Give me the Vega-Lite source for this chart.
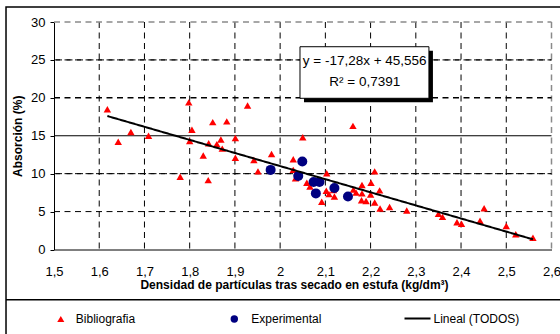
{
  "$schema": "https://vega.github.io/schema/vega-lite/v6.json",
  "width": 497.5,
  "height": 227.5,
  "autosize": {"type": "none"},
  "padding": {"left": 54, "top": 22, "right": 8.5, "bottom": 84.5},
  "background": "white",
  "config": {
    "font": "Liberation Sans",
    "view": {"stroke": null},
    "axis": {
      "domainColor": "#000",
      "tickColor": "#000",
      "labelColor": "#000",
      "titleColor": "#000",
      "labelFont": "Liberation Sans",
      "titleFont": "Liberation Sans",
      "labelFontSize": 13,
      "titleFontSize": 12,
      "titleFontWeight": "bold"
    },
    "legend": {"labelFont": "Liberation Sans", "labelColor": "#000", "labelFontSize": 12, "padding": 0, "title": null, "orient": "none", "symbolOpacity": 1}
  },
  "datasets": {
    "bibliografia": [
      {"x": 1.618, "y": 18.5, "serie": "Bibliografia"},
      {"x": 1.642, "y": 14.2, "serie": "Bibliografia"},
      {"x": 1.670, "y": 15.5, "serie": "Bibliografia"},
      {"x": 1.709, "y": 15.0, "serie": "Bibliografia"},
      {"x": 1.779, "y": 9.6, "serie": "Bibliografia"},
      {"x": 1.798, "y": 19.4, "serie": "Bibliografia"},
      {"x": 1.805, "y": 15.8, "serie": "Bibliografia"},
      {"x": 1.800, "y": 14.3, "serie": "Bibliografia"},
      {"x": 1.830, "y": 12.4, "serie": "Bibliografia"},
      {"x": 1.841, "y": 9.15, "serie": "Bibliografia"},
      {"x": 1.842, "y": 14.0, "serie": "Bibliografia"},
      {"x": 1.851, "y": 16.8, "serie": "Bibliografia"},
      {"x": 1.860, "y": 13.9, "serie": "Bibliografia"},
      {"x": 1.869, "y": 14.5, "serie": "Bibliografia"},
      {"x": 1.872, "y": 13.3, "serie": "Bibliografia"},
      {"x": 1.882, "y": 16.9, "serie": "Bibliografia"},
      {"x": 1.901, "y": 14.7, "serie": "Bibliografia"},
      {"x": 1.901, "y": 12.1, "serie": "Bibliografia"},
      {"x": 1.928, "y": 19.0, "serie": "Bibliografia"},
      {"x": 1.942, "y": 11.8, "serie": "Bibliografia"},
      {"x": 1.951, "y": 10.3, "serie": "Bibliografia"},
      {"x": 1.981, "y": 12.6, "serie": "Bibliografia"},
      {"x": 2.029, "y": 11.9, "serie": "Bibliografia"},
      {"x": 2.029, "y": 10.5, "serie": "Bibliografia"},
      {"x": 2.034, "y": 9.4, "serie": "Bibliografia"},
      {"x": 2.050, "y": 14.8, "serie": "Bibliografia"},
      {"x": 2.059, "y": 8.8, "serie": "Bibliografia"},
      {"x": 2.066, "y": 8.3, "serie": "Bibliografia"},
      {"x": 2.103, "y": 10.05, "serie": "Bibliografia"},
      {"x": 2.102, "y": 7.75, "serie": "Bibliografia"},
      {"x": 2.092, "y": 6.3, "serie": "Bibliografia"},
      {"x": 2.108, "y": 7.3, "serie": "Bibliografia"},
      {"x": 2.118, "y": 7.85, "serie": "Bibliografia"},
      {"x": 2.120, "y": 7.0, "serie": "Bibliografia"},
      {"x": 2.161, "y": 16.3, "serie": "Bibliografia"},
      {"x": 2.162, "y": 7.9, "serie": "Bibliografia"},
      {"x": 2.168, "y": 7.5, "serie": "Bibliografia"},
      {"x": 2.181, "y": 8.5, "serie": "Bibliografia"},
      {"x": 2.181, "y": 7.4, "serie": "Bibliografia"},
      {"x": 2.180, "y": 6.5, "serie": "Bibliografia"},
      {"x": 2.190, "y": 6.4, "serie": "Bibliografia"},
      {"x": 2.209, "y": 10.3, "serie": "Bibliografia"},
      {"x": 2.201, "y": 8.8, "serie": "Bibliografia"},
      {"x": 2.220, "y": 7.8, "serie": "Bibliografia"},
      {"x": 2.200, "y": 7.25, "serie": "Bibliografia"},
      {"x": 2.209, "y": 6.2, "serie": "Bibliografia"},
      {"x": 2.221, "y": 5.4, "serie": "Bibliografia"},
      {"x": 2.242, "y": 5.6, "serie": "Bibliografia"},
      {"x": 2.280, "y": 5.15, "serie": "Bibliografia"},
      {"x": 2.350, "y": 4.7, "serie": "Bibliografia"},
      {"x": 2.359, "y": 4.3, "serie": "Bibliografia"},
      {"x": 2.391, "y": 3.6, "serie": "Bibliografia"},
      {"x": 2.401, "y": 3.4, "serie": "Bibliografia"},
      {"x": 2.442, "y": 3.8, "serie": "Bibliografia"},
      {"x": 2.451, "y": 5.45, "serie": "Bibliografia"},
      {"x": 2.500, "y": 3.1, "serie": "Bibliografia"},
      {"x": 2.521, "y": 2.0, "serie": "Bibliografia"},
      {"x": 2.559, "y": 1.55, "serie": "Bibliografia"}
    ],
    "experimental": [
      {"x": 1.979, "y": 10.5, "serie": "Experimental"},
      {"x": 2.049, "y": 11.6, "serie": "Experimental"},
      {"x": 2.040, "y": 9.7, "serie": "Experimental"},
      {"x": 2.074, "y": 8.9, "serie": "Experimental"},
      {"x": 2.087, "y": 8.9, "serie": "Experimental"},
      {"x": 2.079, "y": 7.4, "serie": "Experimental"},
      {"x": 2.120, "y": 8.1, "serie": "Experimental"},
      {"x": 2.150, "y": 7.0, "serie": "Experimental"}
    ],
    "tendencia": [
      {"x": 1.618, "y": 17.6, "serie": "Lineal (TODOS)"},
      {"x": 2.559, "y": 1.34, "serie": "Lineal (TODOS)"}
    ],
    "nota": [{"a": 1}]
  },
  "layer": [
    {"data": {"name": "nota"}, "mark": {"type": "rule", "stroke": "#000", "strokeWidth": 1, "strokeDash": [6, 4.5]}, "encoding": {"x": {"datum": 1.6, "type": "quantitative", "scale": {"domain": [1.5, 2.6], "nice": false, "zero": false}, "axis": {"values": [1.5, 1.6, 1.7, 1.8, 1.9, 2, 2.1, 2.2, 2.3, 2.4, 2.5, 2.6], "labelExpr": "replace(format(datum.value, '.2~f'), '.', ',')", "grid": false, "ticks": false, "tickSize": 0, "labelPadding": 16, "labelFlush": false, "title": "Densidad de partículas tras secado en estufa (kg/dm³)", "titleX": 240, "titleY": 35, "titleBaseline": "middle"}}}},
    {"data": {"name": "nota"}, "mark": {"type": "rule", "stroke": "#000", "strokeWidth": 1, "strokeDash": [6, 4.5]}, "encoding": {"x": {"datum": 1.7, "type": "quantitative", "scale": {"domain": [1.5, 2.6], "nice": false, "zero": false}, "axis": {"values": [1.5, 1.6, 1.7, 1.8, 1.9, 2, 2.1, 2.2, 2.3, 2.4, 2.5, 2.6], "labelExpr": "replace(format(datum.value, '.2~f'), '.', ',')", "grid": false, "ticks": false, "tickSize": 0, "labelPadding": 16, "labelFlush": false, "title": "Densidad de partículas tras secado en estufa (kg/dm³)", "titleX": 240, "titleY": 35, "titleBaseline": "middle"}}}},
    {"data": {"name": "nota"}, "mark": {"type": "rule", "stroke": "#000", "strokeWidth": 1, "strokeDash": [6, 4.5]}, "encoding": {"x": {"datum": 1.8, "type": "quantitative", "scale": {"domain": [1.5, 2.6], "nice": false, "zero": false}, "axis": {"values": [1.5, 1.6, 1.7, 1.8, 1.9, 2, 2.1, 2.2, 2.3, 2.4, 2.5, 2.6], "labelExpr": "replace(format(datum.value, '.2~f'), '.', ',')", "grid": false, "ticks": false, "tickSize": 0, "labelPadding": 16, "labelFlush": false, "title": "Densidad de partículas tras secado en estufa (kg/dm³)", "titleX": 240, "titleY": 35, "titleBaseline": "middle"}}}},
    {"data": {"name": "nota"}, "mark": {"type": "rule", "stroke": "#000", "strokeWidth": 1, "strokeDash": [6, 4.5]}, "encoding": {"x": {"datum": 1.9, "type": "quantitative", "scale": {"domain": [1.5, 2.6], "nice": false, "zero": false}, "axis": {"values": [1.5, 1.6, 1.7, 1.8, 1.9, 2, 2.1, 2.2, 2.3, 2.4, 2.5, 2.6], "labelExpr": "replace(format(datum.value, '.2~f'), '.', ',')", "grid": false, "ticks": false, "tickSize": 0, "labelPadding": 16, "labelFlush": false, "title": "Densidad de partículas tras secado en estufa (kg/dm³)", "titleX": 240, "titleY": 35, "titleBaseline": "middle"}}}},
    {"data": {"name": "nota"}, "mark": {"type": "rule", "stroke": "#000", "strokeWidth": 1, "strokeDash": [6, 4.5]}, "encoding": {"x": {"datum": 2.0, "type": "quantitative", "scale": {"domain": [1.5, 2.6], "nice": false, "zero": false}, "axis": {"values": [1.5, 1.6, 1.7, 1.8, 1.9, 2, 2.1, 2.2, 2.3, 2.4, 2.5, 2.6], "labelExpr": "replace(format(datum.value, '.2~f'), '.', ',')", "grid": false, "ticks": false, "tickSize": 0, "labelPadding": 16, "labelFlush": false, "title": "Densidad de partículas tras secado en estufa (kg/dm³)", "titleX": 240, "titleY": 35, "titleBaseline": "middle"}}}},
    {"data": {"name": "nota"}, "mark": {"type": "rule", "stroke": "#000", "strokeWidth": 1, "strokeDash": [6, 4.5]}, "encoding": {"x": {"datum": 2.1, "type": "quantitative", "scale": {"domain": [1.5, 2.6], "nice": false, "zero": false}, "axis": {"values": [1.5, 1.6, 1.7, 1.8, 1.9, 2, 2.1, 2.2, 2.3, 2.4, 2.5, 2.6], "labelExpr": "replace(format(datum.value, '.2~f'), '.', ',')", "grid": false, "ticks": false, "tickSize": 0, "labelPadding": 16, "labelFlush": false, "title": "Densidad de partículas tras secado en estufa (kg/dm³)", "titleX": 240, "titleY": 35, "titleBaseline": "middle"}}}},
    {"data": {"name": "nota"}, "mark": {"type": "rule", "stroke": "#000", "strokeWidth": 1, "strokeDash": [6, 4.5]}, "encoding": {"x": {"datum": 2.2, "type": "quantitative", "scale": {"domain": [1.5, 2.6], "nice": false, "zero": false}, "axis": {"values": [1.5, 1.6, 1.7, 1.8, 1.9, 2, 2.1, 2.2, 2.3, 2.4, 2.5, 2.6], "labelExpr": "replace(format(datum.value, '.2~f'), '.', ',')", "grid": false, "ticks": false, "tickSize": 0, "labelPadding": 16, "labelFlush": false, "title": "Densidad de partículas tras secado en estufa (kg/dm³)", "titleX": 240, "titleY": 35, "titleBaseline": "middle"}}}},
    {"data": {"name": "nota"}, "mark": {"type": "rule", "stroke": "#000", "strokeWidth": 1, "strokeDash": [6, 4.5]}, "encoding": {"x": {"datum": 2.3, "type": "quantitative", "scale": {"domain": [1.5, 2.6], "nice": false, "zero": false}, "axis": {"values": [1.5, 1.6, 1.7, 1.8, 1.9, 2, 2.1, 2.2, 2.3, 2.4, 2.5, 2.6], "labelExpr": "replace(format(datum.value, '.2~f'), '.', ',')", "grid": false, "ticks": false, "tickSize": 0, "labelPadding": 16, "labelFlush": false, "title": "Densidad de partículas tras secado en estufa (kg/dm³)", "titleX": 240, "titleY": 35, "titleBaseline": "middle"}}}},
    {"data": {"name": "nota"}, "mark": {"type": "rule", "stroke": "#000", "strokeWidth": 1, "strokeDash": [6, 4.5]}, "encoding": {"x": {"datum": 2.4, "type": "quantitative", "scale": {"domain": [1.5, 2.6], "nice": false, "zero": false}, "axis": {"values": [1.5, 1.6, 1.7, 1.8, 1.9, 2, 2.1, 2.2, 2.3, 2.4, 2.5, 2.6], "labelExpr": "replace(format(datum.value, '.2~f'), '.', ',')", "grid": false, "ticks": false, "tickSize": 0, "labelPadding": 16, "labelFlush": false, "title": "Densidad de partículas tras secado en estufa (kg/dm³)", "titleX": 240, "titleY": 35, "titleBaseline": "middle"}}}},
    {"data": {"name": "nota"}, "mark": {"type": "rule", "stroke": "#000", "strokeWidth": 1, "strokeDash": [6, 4.5]}, "encoding": {"x": {"datum": 2.5, "type": "quantitative", "scale": {"domain": [1.5, 2.6], "nice": false, "zero": false}, "axis": {"values": [1.5, 1.6, 1.7, 1.8, 1.9, 2, 2.1, 2.2, 2.3, 2.4, 2.5, 2.6], "labelExpr": "replace(format(datum.value, '.2~f'), '.', ',')", "grid": false, "ticks": false, "tickSize": 0, "labelPadding": 16, "labelFlush": false, "title": "Densidad de partículas tras secado en estufa (kg/dm³)", "titleX": 240, "titleY": 35, "titleBaseline": "middle"}}}},
    {"data": {"name": "nota"}, "mark": {"type": "rule", "stroke": "#8a8a8a", "strokeWidth": 1.5, "strokeDash": [6, 4.5]}, "encoding": {"x": {"datum": 2.6, "type": "quantitative", "scale": {"domain": [1.5, 2.6], "nice": false, "zero": false}, "axis": {"values": [1.5, 1.6, 1.7, 1.8, 1.9, 2, 2.1, 2.2, 2.3, 2.4, 2.5, 2.6], "labelExpr": "replace(format(datum.value, '.2~f'), '.', ',')", "grid": false, "ticks": false, "tickSize": 0, "labelPadding": 16, "labelFlush": false, "title": "Densidad de partículas tras secado en estufa (kg/dm³)", "titleX": 240, "titleY": 35, "titleBaseline": "middle"}}}},
    {"data": {"name": "nota"}, "mark": {"type": "rule", "stroke": "#000", "strokeWidth": 1, "strokeDash": [6, 4.5]}, "encoding": {"x": {"datum": 1.5, "type": "quantitative", "scale": {"domain": [1.5, 2.6], "nice": false, "zero": false}, "axis": {"values": [1.5, 1.6, 1.7, 1.8, 1.9, 2, 2.1, 2.2, 2.3, 2.4, 2.5, 2.6], "labelExpr": "replace(format(datum.value, '.2~f'), '.', ',')", "grid": false, "ticks": false, "tickSize": 0, "labelPadding": 16, "labelFlush": false, "title": "Densidad de partículas tras secado en estufa (kg/dm³)", "titleX": 240, "titleY": 35, "titleBaseline": "middle"}}, "x2": {"datum": 2.6}, "y": {"datum": 5, "type": "quantitative", "scale": {"domain": [0, 30], "nice": false, "zero": false}, "axis": {"values": [0, 5, 10, 15, 20, 25, 30], "grid": false, "tickSize": 4, "labelPadding": 5, "labelFlush": false, "title": "Absorción (%)", "titleX": -37, "titleY": 113.75, "titleAngle": -90, "titleBaseline": "middle"}}}},
    {"data": {"name": "nota"}, "mark": {"type": "rect", "fill": "transparent", "stroke": "#000", "strokeWidth": 1, "strokeDash": [6, 4.5]}, "encoding": {"x": {"datum": 1.5, "type": "quantitative", "scale": {"domain": [1.5, 2.6], "nice": false, "zero": false}, "axis": {"values": [1.5, 1.6, 1.7, 1.8, 1.9, 2, 2.1, 2.2, 2.3, 2.4, 2.5, 2.6], "labelExpr": "replace(format(datum.value, '.2~f'), '.', ',')", "grid": false, "ticks": false, "tickSize": 0, "labelPadding": 16, "labelFlush": false, "title": "Densidad de partículas tras secado en estufa (kg/dm³)", "titleX": 240, "titleY": 35, "titleBaseline": "middle"}}, "x2": {"datum": 2.6}, "y": {"datum": 10, "type": "quantitative", "scale": {"domain": [0, 30], "nice": false, "zero": false}, "axis": {"values": [0, 5, 10, 15, 20, 25, 30], "grid": false, "tickSize": 4, "labelPadding": 5, "labelFlush": false, "title": "Absorción (%)", "titleX": -37, "titleY": 113.75, "titleAngle": -90, "titleBaseline": "middle"}}, "y2": {"datum": 10}}},
    {"data": {"name": "nota"}, "mark": {"type": "rule", "stroke": "#000", "strokeWidth": 1}, "encoding": {"x": {"datum": 1.5, "type": "quantitative", "scale": {"domain": [1.5, 2.6], "nice": false, "zero": false}, "axis": {"values": [1.5, 1.6, 1.7, 1.8, 1.9, 2, 2.1, 2.2, 2.3, 2.4, 2.5, 2.6], "labelExpr": "replace(format(datum.value, '.2~f'), '.', ',')", "grid": false, "ticks": false, "tickSize": 0, "labelPadding": 16, "labelFlush": false, "title": "Densidad de partículas tras secado en estufa (kg/dm³)", "titleX": 240, "titleY": 35, "titleBaseline": "middle"}}, "x2": {"datum": 2.6}, "y": {"datum": 15, "type": "quantitative", "scale": {"domain": [0, 30], "nice": false, "zero": false}, "axis": {"values": [0, 5, 10, 15, 20, 25, 30], "grid": false, "tickSize": 4, "labelPadding": 5, "labelFlush": false, "title": "Absorción (%)", "titleX": -37, "titleY": 113.75, "titleAngle": -90, "titleBaseline": "middle"}}}},
    {"data": {"name": "nota"}, "mark": {"type": "rule", "stroke": "#000", "strokeWidth": 1.5, "strokeDash": [6, 4.5]}, "encoding": {"x": {"datum": 1.5, "type": "quantitative", "scale": {"domain": [1.5, 2.6], "nice": false, "zero": false}, "axis": {"values": [1.5, 1.6, 1.7, 1.8, 1.9, 2, 2.1, 2.2, 2.3, 2.4, 2.5, 2.6], "labelExpr": "replace(format(datum.value, '.2~f'), '.', ',')", "grid": false, "ticks": false, "tickSize": 0, "labelPadding": 16, "labelFlush": false, "title": "Densidad de partículas tras secado en estufa (kg/dm³)", "titleX": 240, "titleY": 35, "titleBaseline": "middle"}}, "x2": {"datum": 2.6}, "y": {"datum": 20, "type": "quantitative", "scale": {"domain": [0, 30], "nice": false, "zero": false}, "axis": {"values": [0, 5, 10, 15, 20, 25, 30], "grid": false, "tickSize": 4, "labelPadding": 5, "labelFlush": false, "title": "Absorción (%)", "titleX": -37, "titleY": 113.75, "titleAngle": -90, "titleBaseline": "middle"}}}},
    {"data": {"name": "nota"}, "mark": {"type": "rect", "fill": "transparent", "stroke": "#000", "strokeWidth": 1, "strokeDash": [6, 4.5]}, "encoding": {"x": {"datum": 1.5, "type": "quantitative", "scale": {"domain": [1.5, 2.6], "nice": false, "zero": false}, "axis": {"values": [1.5, 1.6, 1.7, 1.8, 1.9, 2, 2.1, 2.2, 2.3, 2.4, 2.5, 2.6], "labelExpr": "replace(format(datum.value, '.2~f'), '.', ',')", "grid": false, "ticks": false, "tickSize": 0, "labelPadding": 16, "labelFlush": false, "title": "Densidad de partículas tras secado en estufa (kg/dm³)", "titleX": 240, "titleY": 35, "titleBaseline": "middle"}}, "x2": {"datum": 2.6}, "y": {"datum": 25, "type": "quantitative", "scale": {"domain": [0, 30], "nice": false, "zero": false}, "axis": {"values": [0, 5, 10, 15, 20, 25, 30], "grid": false, "tickSize": 4, "labelPadding": 5, "labelFlush": false, "title": "Absorción (%)", "titleX": -37, "titleY": 113.75, "titleAngle": -90, "titleBaseline": "middle"}}, "y2": {"datum": 25}}},
    {"data": {"name": "nota"}, "mark": {"type": "rule", "stroke": "#8a8a8a", "strokeWidth": 1.5, "strokeDash": [6, 4.5]}, "encoding": {"x": {"datum": 1.5, "type": "quantitative", "scale": {"domain": [1.5, 2.6], "nice": false, "zero": false}, "axis": {"values": [1.5, 1.6, 1.7, 1.8, 1.9, 2, 2.1, 2.2, 2.3, 2.4, 2.5, 2.6], "labelExpr": "replace(format(datum.value, '.2~f'), '.', ',')", "grid": false, "ticks": false, "tickSize": 0, "labelPadding": 16, "labelFlush": false, "title": "Densidad de partículas tras secado en estufa (kg/dm³)", "titleX": 240, "titleY": 35, "titleBaseline": "middle"}}, "x2": {"datum": 2.6}, "y": {"datum": 30, "type": "quantitative", "scale": {"domain": [0, 30], "nice": false, "zero": false}, "axis": {"values": [0, 5, 10, 15, 20, 25, 30], "grid": false, "tickSize": 4, "labelPadding": 5, "labelFlush": false, "title": "Absorción (%)", "titleX": -37, "titleY": 113.75, "titleAngle": -90, "titleBaseline": "middle"}}}},
    {
      "data": {"name": "bibliografia"},
      "mark": {"type": "point", "filled": true, "size": 55, "opacity": 1},
      "encoding": {
        "x": {"field": "x", "type": "quantitative", "scale": {"domain": [1.5, 2.6], "nice": false, "zero": false}, "axis": {"values": [1.5, 1.6, 1.7, 1.8, 1.9, 2, 2.1, 2.2, 2.3, 2.4, 2.5, 2.6], "labelExpr": "replace(format(datum.value, '.2~f'), '.', ',')", "grid": false, "ticks": false, "tickSize": 0, "labelPadding": 16, "labelFlush": false, "title": "Densidad de partículas tras secado en estufa (kg/dm³)", "titleX": 240, "titleY": 35, "titleBaseline": "middle"}},
        "y": {"field": "y", "type": "quantitative", "scale": {"domain": [0, 30], "nice": false, "zero": false}, "axis": {"values": [0, 5, 10, 15, 20, 25, 30], "grid": false, "tickSize": 4, "labelPadding": 5, "labelFlush": false, "title": "Absorción (%)", "titleX": -37, "titleY": 113.75, "titleAngle": -90, "titleBaseline": "middle"}},
        "color": {
          "field": "serie",
          "type": "nominal",
          "scale": {"domain": ["Bibliografia", "Experimental", "Lineal (TODOS)"], "range": ["#FF0000", "#000080", "#000000"]},
          "legend": {
            "values": ["Experimental"],
            "legendX": 174.3, "legendY": 291,
            "symbolType": "circle", "symbolSize": 55, "labelOffset": 11,
            "symbolFillColor": "#000080", "symbolStrokeWidth": 0
          }
        },
        "shape": {
          "field": "serie",
          "type": "nominal",
          "scale": {"domain": ["Bibliografia", "Experimental"], "range": ["triangle-up", "circle"]},
          "legend": {
            "values": ["Bibliografia"],
            "legendX": 0.8, "legendY": 291,
            "symbolSize": 50, "labelOffset": 9,
            "symbolFillColor": "#FF0000", "symbolStrokeColor": "#FF0000", "symbolStrokeWidth": 0,
            "encode": {"symbols": {"update": {"fill": {"value": "#FF0000"}}}}
          }
        }
      }
    },
    {
      "data": {"name": "experimental"},
      "mark": {"type": "point", "filled": true, "size": 100, "opacity": 1},
      "encoding": {
        "x": {"field": "x", "type": "quantitative", "scale": {"domain": [1.5, 2.6], "nice": false, "zero": false}, "axis": {"values": [1.5, 1.6, 1.7, 1.8, 1.9, 2, 2.1, 2.2, 2.3, 2.4, 2.5, 2.6], "labelExpr": "replace(format(datum.value, '.2~f'), '.', ',')", "grid": false, "ticks": false, "tickSize": 0, "labelPadding": 16, "labelFlush": false, "title": "Densidad de partículas tras secado en estufa (kg/dm³)", "titleX": 240, "titleY": 35, "titleBaseline": "middle"}},
        "y": {"field": "y", "type": "quantitative", "scale": {"domain": [0, 30], "nice": false, "zero": false}, "axis": {"values": [0, 5, 10, 15, 20, 25, 30], "grid": false, "tickSize": 4, "labelPadding": 5, "labelFlush": false, "title": "Absorción (%)", "titleX": -37, "titleY": 113.75, "titleAngle": -90, "titleBaseline": "middle"}},
        "color": {"field": "serie", "type": "nominal"},
        "shape": {"field": "serie", "type": "nominal"}
      }
    },
    {
      "data": {"name": "tendencia"},
      "mark": {"type": "line", "strokeWidth": 2},
      "encoding": {
        "x": {"field": "x", "type": "quantitative", "scale": {"domain": [1.5, 2.6], "nice": false, "zero": false}, "axis": {"values": [1.5, 1.6, 1.7, 1.8, 1.9, 2, 2.1, 2.2, 2.3, 2.4, 2.5, 2.6], "labelExpr": "replace(format(datum.value, '.2~f'), '.', ',')", "grid": false, "ticks": false, "tickSize": 0, "labelPadding": 16, "labelFlush": false, "title": "Densidad de partículas tras secado en estufa (kg/dm³)", "titleX": 240, "titleY": 35, "titleBaseline": "middle"}},
        "y": {"field": "y", "type": "quantitative", "scale": {"domain": [0, 30], "nice": false, "zero": false}, "axis": {"values": [0, 5, 10, 15, 20, 25, 30], "grid": false, "tickSize": 4, "labelPadding": 5, "labelFlush": false, "title": "Absorción (%)", "titleX": -37, "titleY": 113.75, "titleAngle": -90, "titleBaseline": "middle"}},
        "color": {"field": "serie", "type": "nominal"},
        "strokeDash": {
          "field": "serie",
          "type": "nominal",
          "scale": {"domain": ["Lineal (TODOS)"], "range": [[1, 0]]},
          "legend": {
            "legendX": 349.5, "legendY": 282.5,
            "symbolType": "stroke", "symbolSize": 676, "labelOffset": 2,
            "symbolStrokeWidth": 2, "symbolStrokeColor": "#000"
          }
        }
      }
    },
    {
      "data": {"name": "nota"},
      "mark": {"type": "rect", "fill": "transparent", "stroke": "#000", "strokeWidth": 1.5},
      "encoding": {
        "x": {"datum": 1.3939, "type": "quantitative", "scale": {"domain": [1.5, 2.6], "nice": false, "zero": false}, "axis": {"values": [1.5, 1.6, 1.7, 1.8, 1.9, 2, 2.1, 2.2, 2.3, 2.4, 2.5, 2.6], "labelExpr": "replace(format(datum.value, '.2~f'), '.', ',')", "grid": false, "ticks": false, "tickSize": 0, "labelPadding": 16, "labelFlush": false, "title": "Densidad de partículas tras secado en estufa (kg/dm³)", "titleX": 240, "titleY": 35, "titleBaseline": "middle"}},
        "x2": {"datum": 2.75},
        "y": {"datum": 31.98, "type": "quantitative", "scale": {"domain": [0, 30], "nice": false, "zero": false}, "axis": {"values": [0, 5, 10, 15, 20, 25, 30], "grid": false, "tickSize": 4, "labelPadding": 5, "labelFlush": false, "title": "Absorción (%)", "titleX": -37, "titleY": 113.75, "titleAngle": -90, "titleBaseline": "middle"}},
        "y2": {"datum": -16}
      }
    },
    {
      "data": {"name": "nota"},
      "mark": {"type": "rule", "stroke": "#000", "strokeWidth": 1.5, "strokeDash": [1, 0]},
      "encoding": {
        "x": {"datum": 1.3939, "type": "quantitative", "scale": {"domain": [1.5, 2.6], "nice": false, "zero": false}, "axis": {"values": [1.5, 1.6, 1.7, 1.8, 1.9, 2, 2.1, 2.2, 2.3, 2.4, 2.5, 2.6], "labelExpr": "replace(format(datum.value, '.2~f'), '.', ',')", "grid": false, "ticks": false, "tickSize": 0, "labelPadding": 16, "labelFlush": false, "title": "Densidad de partículas tras secado en estufa (kg/dm³)", "titleX": 240, "titleY": 35, "titleBaseline": "middle"}},
        "x2": {"datum": 2.75},
        "y": {"datum": -6.61, "type": "quantitative", "scale": {"domain": [0, 30], "nice": false, "zero": false}, "axis": {"values": [0, 5, 10, 15, 20, 25, 30], "grid": false, "tickSize": 4, "labelPadding": 5, "labelFlush": false, "title": "Absorción (%)", "titleX": -37, "titleY": 113.75, "titleAngle": -90, "titleBaseline": "middle"}}
      }
    },
    {
      "data": {"name": "nota"},
      "mark": {"type": "rect", "fill": "#000", "xOffset": 4, "x2Offset": 4, "yOffset": 4, "y2Offset": 4},
      "encoding": {
        "x": {"datum": 2.0439, "type": "quantitative", "scale": {"domain": [1.5, 2.6], "nice": false, "zero": false}, "axis": {"values": [1.5, 1.6, 1.7, 1.8, 1.9, 2, 2.1, 2.2, 2.3, 2.4, 2.5, 2.6], "labelExpr": "replace(format(datum.value, '.2~f'), '.', ',')", "grid": false, "ticks": false, "tickSize": 0, "labelPadding": 16, "labelFlush": false, "title": "Densidad de partículas tras secado en estufa (kg/dm³)", "titleX": 240, "titleY": 35, "titleBaseline": "middle"}},
        "x2": {"datum": 2.329},
        "y": {"datum": 26.74, "type": "quantitative", "scale": {"domain": [0, 30], "nice": false, "zero": false}, "axis": {"values": [0, 5, 10, 15, 20, 25, 30], "grid": false, "tickSize": 4, "labelPadding": 5, "labelFlush": false, "title": "Absorción (%)", "titleX": -37, "titleY": 113.75, "titleAngle": -90, "titleBaseline": "middle"}},
        "y2": {"datum": 19.94}
      }
    },
    {
      "data": {"name": "nota"},
      "mark": {"type": "rect", "fill": "#fff", "stroke": "#000", "strokeWidth": 1},
      "encoding": {
        "x": {"datum": 2.0439, "type": "quantitative", "scale": {"domain": [1.5, 2.6], "nice": false, "zero": false}, "axis": {"values": [1.5, 1.6, 1.7, 1.8, 1.9, 2, 2.1, 2.2, 2.3, 2.4, 2.5, 2.6], "labelExpr": "replace(format(datum.value, '.2~f'), '.', ',')", "grid": false, "ticks": false, "tickSize": 0, "labelPadding": 16, "labelFlush": false, "title": "Densidad de partículas tras secado en estufa (kg/dm³)", "titleX": 240, "titleY": 35, "titleBaseline": "middle"}},
        "x2": {"datum": 2.329},
        "y": {"datum": 26.74, "type": "quantitative", "scale": {"domain": [0, 30], "nice": false, "zero": false}, "axis": {"values": [0, 5, 10, 15, 20, 25, 30], "grid": false, "tickSize": 4, "labelPadding": 5, "labelFlush": false, "title": "Absorción (%)", "titleX": -37, "titleY": 113.75, "titleAngle": -90, "titleBaseline": "middle"}},
        "y2": {"datum": 19.94}
      }
    },
    {
      "data": {"name": "nota"},
      "mark": {"type": "text", "text": "y = -17,28x + 45,556", "fontSize": 13.5, "align": "center", "baseline": "middle", "color": "#000"},
      "encoding": {
        "x": {"datum": 2.187, "type": "quantitative", "scale": {"domain": [1.5, 2.6], "nice": false, "zero": false}, "axis": {"values": [1.5, 1.6, 1.7, 1.8, 1.9, 2, 2.1, 2.2, 2.3, 2.4, 2.5, 2.6], "labelExpr": "replace(format(datum.value, '.2~f'), '.', ',')", "grid": false, "ticks": false, "tickSize": 0, "labelPadding": 16, "labelFlush": false, "title": "Densidad de partículas tras secado en estufa (kg/dm³)", "titleX": 240, "titleY": 35, "titleBaseline": "middle"}},
        "y": {"datum": 24.9, "type": "quantitative", "scale": {"domain": [0, 30], "nice": false, "zero": false}, "axis": {"values": [0, 5, 10, 15, 20, 25, 30], "grid": false, "tickSize": 4, "labelPadding": 5, "labelFlush": false, "title": "Absorción (%)", "titleX": -37, "titleY": 113.75, "titleAngle": -90, "titleBaseline": "middle"}}
      }
    },
    {
      "data": {"name": "nota"},
      "mark": {"type": "text", "text": "R² = 0,7391", "fontSize": 13.5, "align": "center", "baseline": "middle", "color": "#000"},
      "encoding": {
        "x": {"datum": 2.187, "type": "quantitative", "scale": {"domain": [1.5, 2.6], "nice": false, "zero": false}, "axis": {"values": [1.5, 1.6, 1.7, 1.8, 1.9, 2, 2.1, 2.2, 2.3, 2.4, 2.5, 2.6], "labelExpr": "replace(format(datum.value, '.2~f'), '.', ',')", "grid": false, "ticks": false, "tickSize": 0, "labelPadding": 16, "labelFlush": false, "title": "Densidad de partículas tras secado en estufa (kg/dm³)", "titleX": 240, "titleY": 35, "titleBaseline": "middle"}},
        "y": {"datum": 22.13, "type": "quantitative", "scale": {"domain": [0, 30], "nice": false, "zero": false}, "axis": {"values": [0, 5, 10, 15, 20, 25, 30], "grid": false, "tickSize": 4, "labelPadding": 5, "labelFlush": false, "title": "Absorción (%)", "titleX": -37, "titleY": 113.75, "titleAngle": -90, "titleBaseline": "middle"}}
      }
    }
  ]
}
